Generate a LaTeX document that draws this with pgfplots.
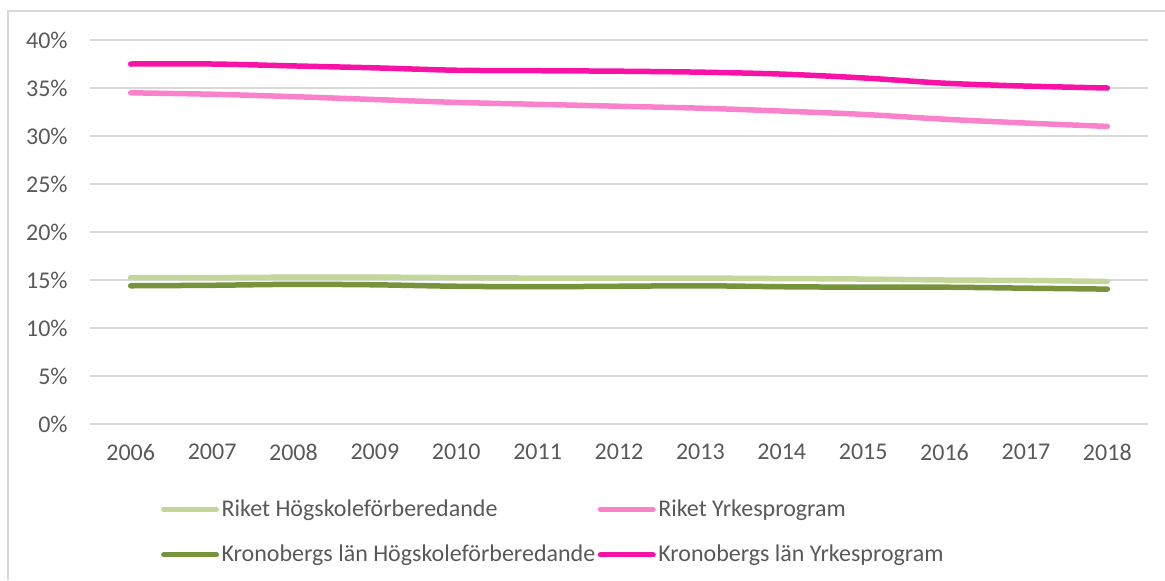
\documentclass[border=0pt]{standalone}
\usepackage{pgfplots}
\pgfplotsset{compat=1.18}
\usepackage{fontspec}
\setmainfont{Carlito}
\definecolor{gridc}{HTML}{D9D9D9}
\definecolor{txt}{HTML}{595959}
\definecolor{rh}{HTML}{C4D79B}
\definecolor{kh}{HTML}{77933C}
\definecolor{ry}{HTML}{FA82CD}
\definecolor{ky}{HTML}{F812A6}
\begin{document}
\begin{tikzpicture}
\path[use as bounding box] (0,0) rectangle (582.5pt,290pt);
\draw[gridc, line width=0.75pt] (4pt,0) -- (4pt,284.5pt) -- (582.5pt,284.5pt);
\begin{axis}[
  at={(45pt,78pt)}, anchor=south west,
  width=529pt, height=192pt, scale only axis,
  xmin=-0.5, xmax=12.5, ymin=0, ymax=40,
  axis line style={draw=none},
  tick style={draw=none},
  major tick length=0pt,
  xtick={0,1,2,3,4,5,6,7,8,9,10,11,12},
  xticklabels={2006,2007,2008,2009,2010,2011,2012,2013,2014,2015,2016,2017,2018},
  ytick={0,5,10,15,20,25,30,35,40},
  yticklabels={0\%,5\%,10\%,15\%,20\%,25\%,30\%,35\%,40\%},
  ymajorgrids, xmajorgrids=false,
  grid style={gridc, line width=0.75pt},
  tick label style={font=\fontsize{12}{14}\selectfont, text=txt},
  yticklabel style={anchor=east, inner sep=0pt, xshift=-11pt},
  xticklabel style={anchor=north, inner sep=0pt, yshift=-10pt},
  legend columns=2,
  legend cell align=left,
  legend style={draw=none, fill=none, at={(0.0668,-0.189)}, anchor=north west,
    font=\fontsize{12}{14}\selectfont, text=txt, column sep=0pt, row sep=10.5pt,
    inner sep=0pt, nodes={inner sep=1.25pt}},
  legend image code/.code={\draw[#1, line width=2.5pt, line cap=round] (0pt,0pt) -- (26.5pt,0pt);},
  every axis plot/.append style={line width=2.75pt, line cap=round, line join=round, mark=none, smooth},
  clip=false,
]
\addplot[rh] coordinates {(0,15.25)(1,15.25)(2,15.3)(3,15.3)(4,15.25)(5,15.2)(6,15.2)(7,15.2)(8,15.15)(9,15.1)(10,15.0)(11,14.95)(12,14.85)};
\addlegendentry{Riket Högskoleförberedande}
\addplot[ry] coordinates {(0,34.5)(1,34.35)(2,34.1)(3,33.8)(4,33.5)(5,33.3)(6,33.1)(7,32.9)(8,32.6)(9,32.25)(10,31.75)(11,31.35)(12,31.0)};
\addlegendentry{Riket Yrkesprogram}
\addplot[kh] coordinates {(0,14.4)(1,14.45)(2,14.55)(3,14.5)(4,14.35)(5,14.3)(6,14.35)(7,14.4)(8,14.3)(9,14.25)(10,14.25)(11,14.15)(12,14.05)};
\addlegendentry{Kronobergs län Högskoleförberedande}
\addplot[ky] coordinates {(0,37.5)(1,37.5)(2,37.3)(3,37.1)(4,36.85)(5,36.8)(6,36.75)(7,36.65)(8,36.45)(9,36.05)(10,35.5)(11,35.2)(12,35.0)};
\addlegendentry{Kronobergs län Yrkesprogram}
\end{axis}
\end{tikzpicture}
\end{document}
